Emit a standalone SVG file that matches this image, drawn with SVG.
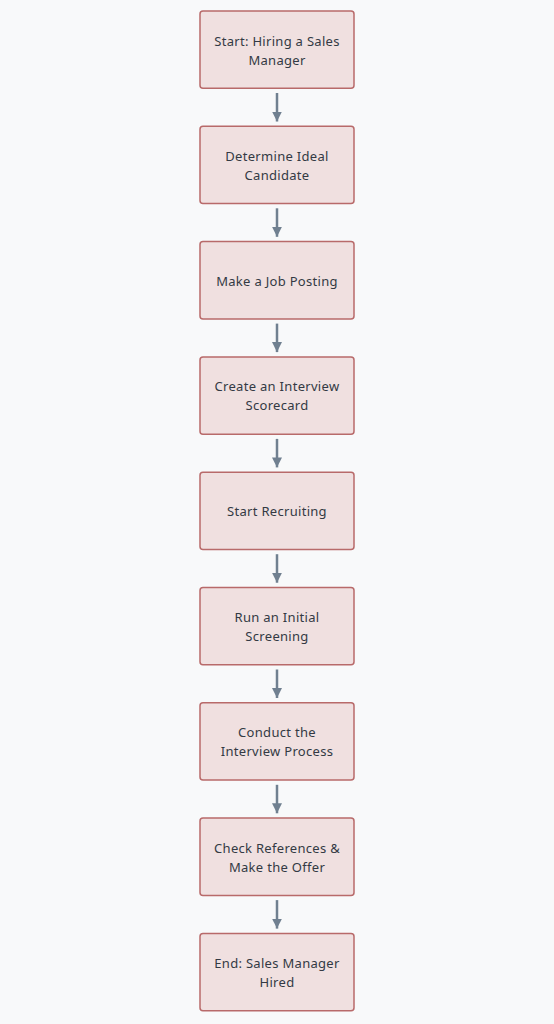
<svg xmlns="http://www.w3.org/2000/svg" width="554" height="1024" viewBox="0 0 554 1024">
<defs>
<style>
.n rect{fill:#f0e0e0;stroke:#b86a6a;stroke-width:1.5}
.n text{font-family:"Noto Sans","DejaVu Sans",sans-serif;font-size:13px;letter-spacing:0.3px;fill:#333a44;text-anchor:middle}
.c line{stroke:#708090;stroke-width:2.5}
</style>
<marker id="ah" viewBox="0 0 10 10" refX="10" refY="5" markerWidth="4" markerHeight="4" markerUnits="strokeWidth" orient="auto">
<path d="M0,0 L10,5 L0,10 z" fill="#708090"/>
</marker>
</defs>
<rect width="554" height="1024" fill="#f8f9fa"/>
<g id="connectors" class="c">
<line x1="277" y1="93" x2="277" y2="121.5" marker-end="url(#ah)"/>
<line x1="277" y1="208.3" x2="277" y2="236.8" marker-end="url(#ah)"/>
<line x1="277" y1="323.6" x2="277" y2="352.1" marker-end="url(#ah)"/>
<line x1="277" y1="438.9" x2="277" y2="467.4" marker-end="url(#ah)"/>
<line x1="277" y1="554.2" x2="277" y2="582.7" marker-end="url(#ah)"/>
<line x1="277" y1="669.5" x2="277" y2="698" marker-end="url(#ah)"/>
<line x1="277" y1="784.8" x2="277" y2="813.3" marker-end="url(#ah)"/>
<line x1="277" y1="900.1" x2="277" y2="928.6" marker-end="url(#ah)"/>
</g>
<g id="n1" class="n"><rect x="200" y="11" width="154" height="77.3" rx="3"/><text x="277" y="45.5">Start: Hiring a Sales</text><text x="277" y="64.5">Manager</text></g>
<g id="n2" class="n"><rect x="200" y="126.3" width="154" height="77.3" rx="3"/><text x="277" y="160.8">Determine Ideal</text><text x="277" y="179.8">Candidate</text></g>
<g id="n3" class="n"><rect x="200" y="241.6" width="154" height="77.3" rx="3"/><text x="277" y="285.5">Make a Job Posting</text></g>
<g id="n4" class="n"><rect x="200" y="356.9" width="154" height="77.3" rx="3"/><text x="277" y="391.4">Create an Interview</text><text x="277" y="410.4">Scorecard</text></g>
<g id="n5" class="n"><rect x="200" y="472.2" width="154" height="77.3" rx="3"/><text x="277" y="516.1">Start Recruiting</text></g>
<g id="n6" class="n"><rect x="200" y="587.5" width="154" height="77.3" rx="3"/><text x="277" y="622">Run an Initial</text><text x="277" y="641">Screening</text></g>
<g id="n7" class="n"><rect x="200" y="702.8" width="154" height="77.3" rx="3"/><text x="277" y="737.3">Conduct the</text><text x="277" y="756.3">Interview Process</text></g>
<g id="n8" class="n"><rect x="200" y="818.1" width="154" height="77.3" rx="3"/><text x="277" y="852.6">Check References &amp;</text><text x="277" y="871.6">Make the Offer</text></g>
<g id="n9" class="n"><rect x="200" y="933.4" width="154" height="77.3" rx="3"/><text x="277" y="967.9">End: Sales Manager</text><text x="277" y="986.9">Hired</text></g>
</svg>
